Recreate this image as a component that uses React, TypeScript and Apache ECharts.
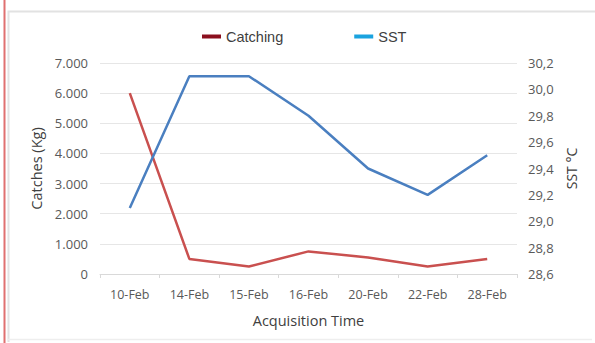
import React, { useEffect, useRef } from "react";
import * as echarts from "echarts";

const categories = ["10-Feb", "14-Feb", "15-Feb", "16-Feb", "20-Feb", "22-Feb", "28-Feb"];
const catching = [6000, 500, 250, 750, 550, 250, 500];
const sst = [29.1, 30.1, 30.1, 29.8, 29.4, 29.2, 29.5];

export default function App() {
  const ref = useRef<HTMLDivElement>(null);
  useEffect(() => {
    document.body.style.margin = "0";
    const chart = echarts.init(ref.current!, undefined, { renderer: "svg" });
    const tickFont = { fontFamily: "Open Sans", fontSize: 13, color: "#595959" };
    chart.setOption({
      animation: false,
      backgroundColor: "#ffffff",
      graphic: [
        { type: "line", shape: { x1: 4.5, y1: 0, x2: 4.5, y2: 343 }, style: { stroke: "#e07070", lineWidth: 2 } },
        { type: "polyline", shape: { points: [[8.5, 342], [8.5, 11.5], [595, 11.5]] }, style: { stroke: "#e2e2e2", fill: null, lineWidth: 2 } },
        { type: "line", shape: { x1: 8, y1: 339.5, x2: 592, y2: 339.5 }, style: { stroke: "#eeeeee", lineWidth: 1.5 } },
      ],
      legend: {
        top: 24,
        left: 197,
        itemGap: 71,
        icon: "rect",
        itemWidth: 19,
        itemHeight: 4,
        textStyle: { fontFamily: "Liberation Sans", fontSize: 14.5, color: "#404040" },
        data: [
          { name: "Catching", itemStyle: { color: "#8b0f1e" } },
          { name: "SST", itemStyle: { color: "#1aa3df" } },
        ],
      },
      grid: { left: 100, right: 78, top: 63, bottom: 69 },
      xAxis: {
        type: "category",
        data: categories,
        boundaryGap: true,
        name: "Acquisition Time",
        nameLocation: "middle",
        nameGap: 39,
        nameTextStyle: { fontFamily: "Open Sans", fontSize: 14.5, color: "#404040" },
        axisLine: { lineStyle: { color: "#d9d9d9" } },
        axisTick: { show: true, length: 4, lineStyle: { color: "#d9d9d9" } },
        axisLabel: { ...tickFont, fontSize: 12.5, margin: 14 },
      },
      yAxis: [
        {
          type: "value",
          min: 0,
          max: 7000,
          interval: 1000,
          name: "Catches (Kg)",
          nameLocation: "middle",
          nameGap: 56,
          nameTextStyle: { fontFamily: "Open Sans", fontSize: 14.5, color: "#404040" },
          axisLine: { show: false },
          axisTick: { show: false },
          axisLabel: { ...tickFont, margin: 12, formatter: (v: number) => (v === 0 ? "0" : (v / 1000).toFixed(3)) },
          splitLine: { lineStyle: { color: "#e6e6e6" } },
        },
        {
          type: "value",
          position: "right",
          min: 28.6,
          max: 30.2,
          interval: 0.2,
          name: "SST °C",
          nameLocation: "middle",
          nameRotate: 90,
          nameGap: 59,
          nameTextStyle: { fontFamily: "Open Sans", fontSize: 14, color: "#404040", verticalAlign: "bottom" },
          axisLine: { show: false },
          axisTick: { show: false },
          axisLabel: { ...tickFont, margin: 11, formatter: (v: number) => v.toFixed(1).replace(".", ",") },
          splitLine: { show: false },
        },
      ],
      series: [
        {
          name: "Catching",
          type: "line",
          data: catching,
          yAxisIndex: 0,
          symbol: "none",
          lineStyle: { color: "#c9504f", width: 2.5 },
          itemStyle: { color: "#8b0f1e" },
        },
        {
          name: "SST",
          type: "line",
          data: sst,
          yAxisIndex: 1,
          symbol: "none",
          lineStyle: { color: "#4a7fc0", width: 2.5 },
          itemStyle: { color: "#1aa3df" },
        },
      ],
    });
    return () => chart.dispose();
  }, []);
  return <div ref={ref} style={{ position: "absolute", left: 0, top: 0, width: 595, height: 343 }} />;
}
